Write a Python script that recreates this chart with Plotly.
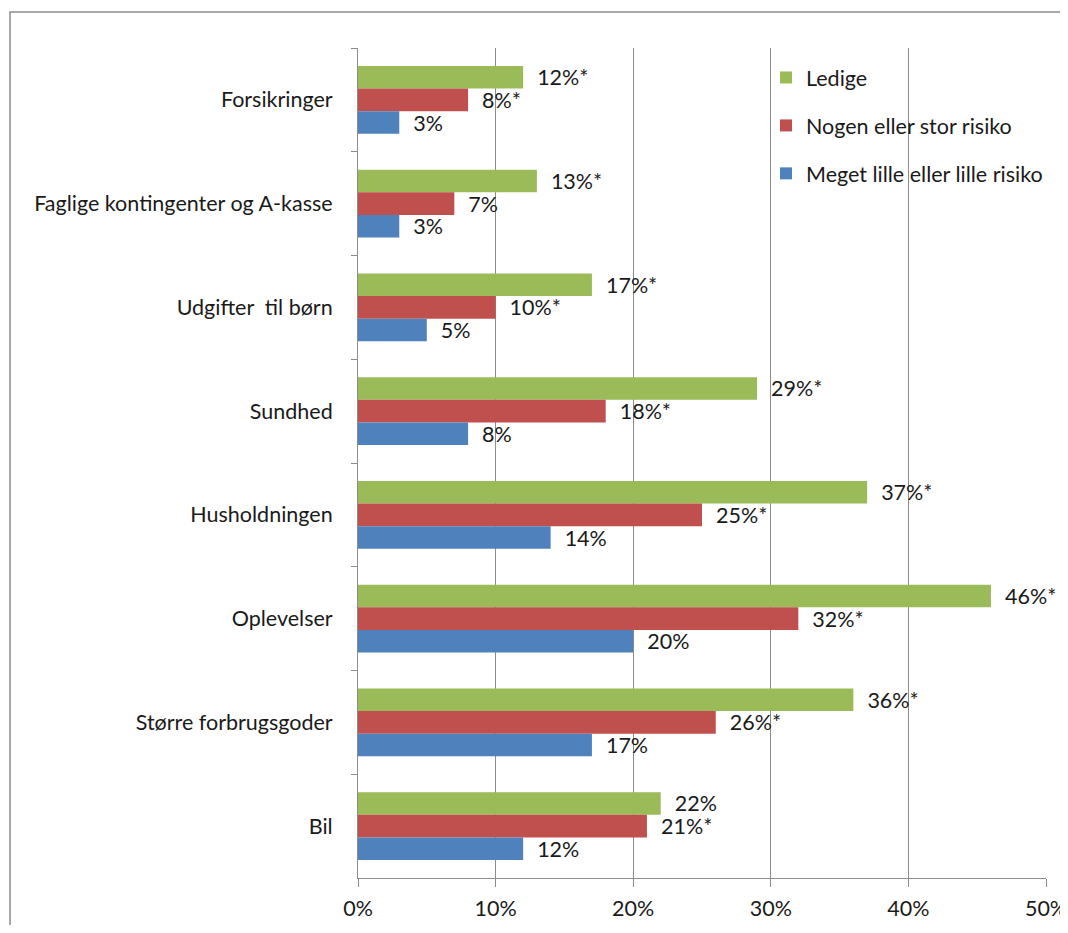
import plotly.graph_objects as go

categories = ["Forsikringer", "Faglige kontingenter og A-kasse", "Udgifter \u00a0til børn",
              "Sundhed", "Husholdningen", "Oplevelser", "Større forbrugsgoder", "Bil"]
series_names = ["Ledige", "Nogen eller stor risiko", "Meget lille eller lille risiko"]
ledige = [12, 13, 17, 29, 37, 46, 36, 22]
nogen = [8, 7, 10, 18, 25, 32, 26, 21]
meget = [3, 3, 5, 8, 14, 20, 17, 12]
ledige_labels = ["12%*", "13%*", "17%*", "29%*", "37%*", "46%*", "36%*", "22%"]
nogen_labels = ["8%*", "7%", "10%*", "18%*", "25%*", "32%*", "26%*", "21%*"]
meget_labels = ["3%", "3%", "5%", "8%", "14%", "20%", "17%", "12%"]
x_ticks = [0, 10, 20, 30, 40, 50]
x_tick_labels = ["0%", "10%", "20%", "30%", "40%", "50%"]
colors = ["#9BBB59", "#C0504D", "#4F81BD"]

FONT = "Lato, Liberation Sans, sans-serif"
FS = 21.5
W, H = 1052, 917
L, R, T, B = 350, 14, 40, 47
PW = W - L - R
PH = H - T - B

fig = go.Figure()
for i, (name, vals, labs) in enumerate(zip(series_names, [ledige, nogen, meget],
                                          [ledige_labels, nogen_labels, meget_labels])):
    fig.add_trace(go.Bar(
        y=categories, x=vals, name=name, orientation="h",
        marker=dict(color=colors[i], line=dict(width=0)),
        text=["\u00a0\u00a0" + t for t in labs], textposition="outside",
        textfont=dict(family=FONT, size=FS, color="#1a1a1a"),
        constraintext="none", cliponaxis=False, legendgroup=name,
    ))

fig.update_layout(
    width=W, height=H,
    barmode="group", bargap=0.345, bargroupgap=0,
    paper_bgcolor="white", plot_bgcolor="white",
    margin=dict(l=L, r=R, t=T, b=B, autoexpand=False),
    font=dict(family=FONT, size=FS, color="#1a1a1a"),
    legend=dict(x=(758 - L) / PW, y=(H - B - 49) / PH, xanchor="left", yanchor="top",
                bgcolor="rgba(0,0,0,0)", font=dict(family=FONT, size=FS, color="#1a1a1a"),
                tracegroupgap=17, traceorder="grouped", itemwidth=30),
    xaxis=dict(range=[0, 50], tickvals=x_ticks, ticktext=x_tick_labels,
               showgrid=True, gridcolor="#8c8c8c", gridwidth=1,
               showline=True, linecolor="#8c8c8c", linewidth=1,
               ticks="outside", ticklen=8, tickcolor="#8c8c8c",
               ticklabelstandoff=3, ticklabeloverflow="allow",
               zeroline=False, fixedrange=True),
    yaxis=dict(autorange="reversed", showline=True, linecolor="#8c8c8c", linewidth=1,
               ticks="outside", tickson="boundaries", ticklen=6, tickcolor="#8c8c8c",
               ticklabelstandoff=20, showgrid=False, fixedrange=True),
    showlegend=True,
)

fig.add_shape(type="rect", xref="paper", yref="paper",
              x0=(2 - L) / PW, x1=1.2, y0=-0.3, y1=(H - B - 4) / PH,
              line=dict(color="#8c8c8c", width=1.5), fillcolor="rgba(0,0,0,0)", layer="below")

fig.write_html("out.html")
